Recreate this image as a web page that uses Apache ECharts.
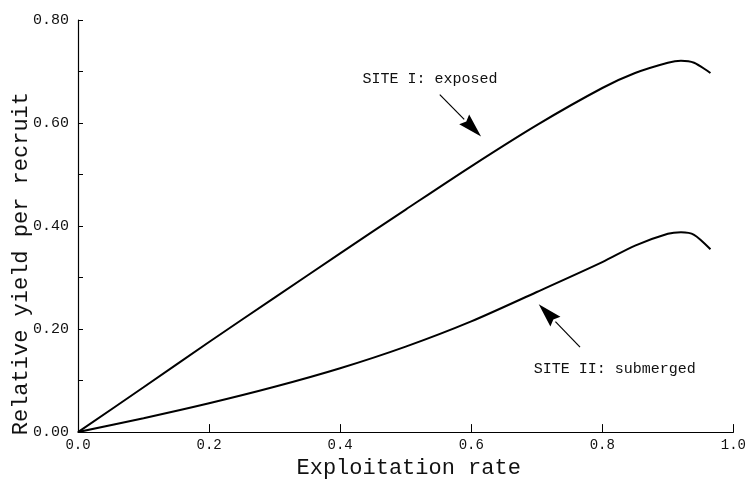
<!DOCTYPE html>
<html>
<head>
<meta charset="utf-8">
<script src="https://cdn.jsdelivr.net/npm/echarts@6/dist/echarts.min.js"></script>
<style>
html,body{margin:0;padding:0;background:#fff;}
#c{width:749px;height:484px;}
</style>
</head>
<body>
<div id="c"></div>
<script>
// Exploitation rate (x) values
var exploitationRate = [0, 0.1, 0.2, 0.3, 0.4, 0.5, 0.6, 0.7, 0.8, 0.85, 0.9, 0.92, 0.94, 0.965];
// Relative yield per recruit, SITE I: exposed
var siteExposed = [0, 0.087, 0.175, 0.261, 0.347, 0.432, 0.516, 0.596, 0.668, 0.697, 0.717, 0.721, 0.717, 0.697];
// Relative yield per recruit, SITE II: submerged
var siteSubmerged = [0, 0.027, 0.056, 0.088, 0.124, 0.166, 0.215, 0.272, 0.330, 0.362, 0.385, 0.388, 0.383, 0.355];

var xTickLabels = ['0.0', '0.2', '0.4', '0.6', '0.8', '1.0'];
var yTickLabels = ['0.00', '0.20', '0.40', '0.60', '0.80'];

// annotation anchors (data coordinates)
var labelExposed = {text: 'SITE I: exposed', at: [0.537, 0.686]};
var arrowExposed = [[0.552, 0.655], [0.615, 0.574]];
var labelSubmerged = {text: 'SITE II: submerged', at: [0.819, 0.122]};
var arrowSubmerged = [[0.766, 0.165], [0.703, 0.248]];

function pairs(xs, ys) { return xs.map(function (x, i) { return [x, ys[i]]; }); }

var mono = '"Liberation Mono", "Courier New", monospace';
var chart = echarts.init(document.getElementById('c'), null, {renderer: 'canvas'});

function lineSeries(ys, lbl) {
  return {
    type: 'line', data: pairs(exploitationRate, ys),
    smooth: 0.3, showSymbol: false, symbol: 'none',
    lineStyle: {color: '#000', width: 2},
    markPoint: {
      symbol: 'circle', symbolSize: 0, silent: true,
      label: {show: true, position: 'inside', formatter: lbl.text, color: '#111', fontFamily: mono, fontSize: 15},
      data: [{coord: lbl.at}]
    }
  };
}

chart.setOption({
  animation: false,
  backgroundColor: '#fff',
  grid: {left: 78, right: 12, top: 20, bottom: 51},
  xAxis: {
    type: 'value', min: 0, max: 1, interval: 0.2,
    axisLine: {lineStyle: {color: '#000', width: 1.2}},
    axisTick: {inside: true, length: 8, lineStyle: {color: '#000'}},
    splitLine: {show: false},
    axisLabel: {
      margin: 6, color: '#111', fontFamily: mono, fontSize: 14,
      formatter: function (v) { return xTickLabels[Math.round(v / 0.2)]; }
    },
    name: 'Exploitation rate', nameLocation: 'middle', nameGap: 24,
    nameTextStyle: {fontFamily: mono, fontSize: 22, color: '#111', padding: [0, 0, 0, 6]}
  },
  yAxis: {
    type: 'value', min: 0, max: 0.8, interval: 0.2,
    axisLine: {show: true, lineStyle: {color: '#000', width: 1.2}},
    axisTick: {show: true, inside: true, length: 5, lineStyle: {color: '#000'}},
    minorTick: {show: true, splitNumber: 2, length: 5, lineStyle: {color: '#000'}},
    splitLine: {show: false},
    axisLabel: {
      margin: 9, color: '#111', fontFamily: mono, fontSize: 15,
      formatter: function (v) { return yTickLabels[Math.round(v / 0.2)]; }
    }
  },
  series: [lineSeries(siteExposed, labelExposed), lineSeries(siteSubmerged, labelSubmerged)]
});

// arrows drawn in pixel space derived from the data coordinates
function arrowGraphics(a) {
  var p0 = chart.convertToPixel({seriesIndex: 0}, a[0]);
  var p1 = chart.convertToPixel({seriesIndex: 0}, a[1]);
  var dx = p1[0] - p0[0], dy = p1[1] - p0[1];
  var L = Math.sqrt(dx * dx + dy * dy), ux = dx / L, uy = dy / L;
  var headLen = 24, headW = 7;
  var bx = p1[0] - ux * headLen, by = p1[1] - uy * headLen;
  return [{
    type: 'line', silent: true,
    shape: {x1: p0[0], y1: p0[1], x2: bx, y2: by},
    style: {stroke: '#000', lineWidth: 1.2}
  }, {
    type: 'polygon', silent: true,
    shape: {points: [[p1[0], p1[1]], [bx - uy * headW, by + ux * headW], [bx + ux * 3, by + uy * 3], [bx + uy * headW, by - ux * headW]]},
    style: {fill: '#000'}
  }];
}

chart.setOption({
  graphic: [{
    type: 'text', left: 10, top: 92, rotation: Math.PI / 2,
    style: {text: 'Relative yield per recruit', fill: '#111', font: '22px ' + mono}
  }].concat(arrowGraphics(arrowExposed), arrowGraphics(arrowSubmerged))
});
</script>
</body>
</html>
